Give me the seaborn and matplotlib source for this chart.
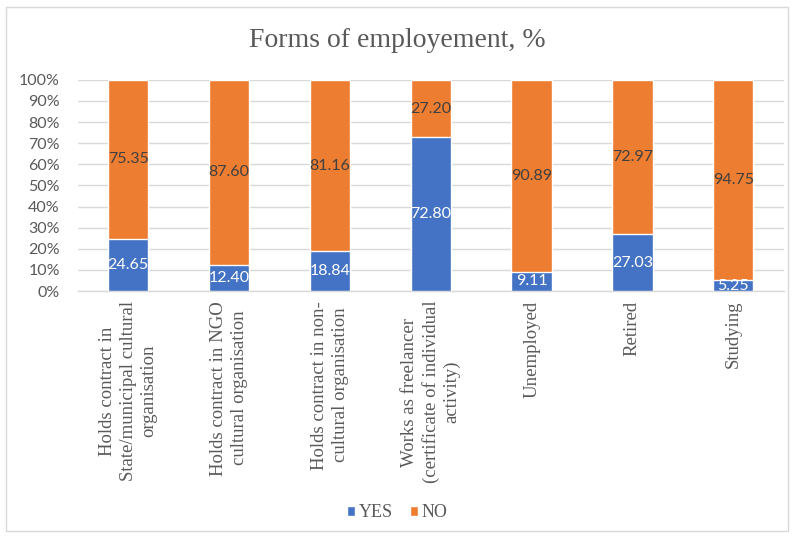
import matplotlib
matplotlib.use("Agg")
import matplotlib.pyplot as plt
import seaborn as sns
import pandas as pd
from matplotlib.patches import Rectangle, Patch
from matplotlib.ticker import PercentFormatter

categories = [
    "Holds contract in\nState/municipal cultural\norganisation",
    "Holds contract in NGO\ncultural organisation",
    "Holds contract in non-\ncultural organisation",
    "Works as freelancer\n(certificate of individual\nactivity)",
    "Unemployed",
    "Retired",
    "Studying",
]
yes_vals = [24.65, 12.40, 18.84, 72.80, 9.11, 27.03, 5.25]
no_vals = [75.35, 87.60, 81.16, 27.20, 90.89, 72.97, 94.75]
series_names = ["YES", "NO"]

BLUE = "#4472C4"
ORANGE = "#ED7D31"
SERIF = ["Liberation Serif", "DejaVu Serif"]
SANS = ["Lato", "DejaVu Sans"]

sns.set_theme(style="white")
plt.rcParams["font.family"] = SANS

df = pd.DataFrame({"cat": categories, "yes": yes_vals, "no": no_vals})
df["total"] = df["yes"] + df["no"]

fig = plt.figure(figsize=(7.94, 5.36), dpi=100)
ax = fig.add_axes([0.098, 0.457, 0.889, 0.394])

sns.barplot(data=df, x="cat", y="total", color=ORANGE, width=0.4,
            saturation=1, ax=ax, zorder=2)
sns.barplot(data=df, x="cat", y="yes", color=BLUE, width=0.4,
            saturation=1, ax=ax, zorder=3)

ax.set_ylim(0, 100)
ax.set_xlim(-0.5, len(categories) - 0.5)
ax.set_yticks(range(0, 101, 10))
ax.yaxis.set_major_formatter(PercentFormatter(decimals=0))
ax.grid(axis="y", color="#D9D9D9", linewidth=1, zorder=0)
ax.set_axisbelow(True)
for s in ["top", "right", "left"]:
    ax.spines[s].set_visible(False)
ax.spines["bottom"].set_color("#D9D9D9")
ax.spines["bottom"].set_linewidth(1)
ax.set_xlabel("")
ax.set_ylabel("")
ax.tick_params(axis="y", length=0, pad=13, labelsize=11.5, labelcolor="#595959")
ax.tick_params(axis="x", length=0, pad=7)
ax.set_xticks(range(len(categories)))
ax.set_xticklabels(categories, rotation=90, ha="center", va="top",
                   multialignment="center", family=SERIF, fontsize=13.5,
                   color="#595959", linespacing=1.25)

for i, (y, n) in enumerate(zip(yes_vals, no_vals)):
    ax.text(i, y / 2, f"{y:.2f}", ha="center", va="center", color="white",
            fontsize=11.5, zorder=4, family=SANS)
    ax.text(i, y + n / 2, f"{n:.2f}", ha="center", va="center",
            color="#404040", fontsize=11.5, zorder=4, family=SANS)

fig.text(0.5, 0.925, "Forms of employement, %", ha="center", va="center",
         family=SERIF, fontsize=20, color="#595959")

handles = [Patch(facecolor=BLUE, label=series_names[0]),
           Patch(facecolor=ORANGE, label=series_names[1])]
fig.legend(handles=handles, loc="center", bbox_to_anchor=(0.5, 0.043),
           ncol=2, frameon=False, prop={"family": SERIF, "size": 13},
           handlelength=0.45, handleheight=0.45, handletextpad=0.2,
           columnspacing=0.95, labelcolor="#595959")

fig.patches.append(Rectangle((0.007, 0.01), 0.986, 0.977, transform=fig.transFigure,
                             fill=False, edgecolor="#D9D9D9", linewidth=1))

fig.savefig("out.png", dpi=100)
